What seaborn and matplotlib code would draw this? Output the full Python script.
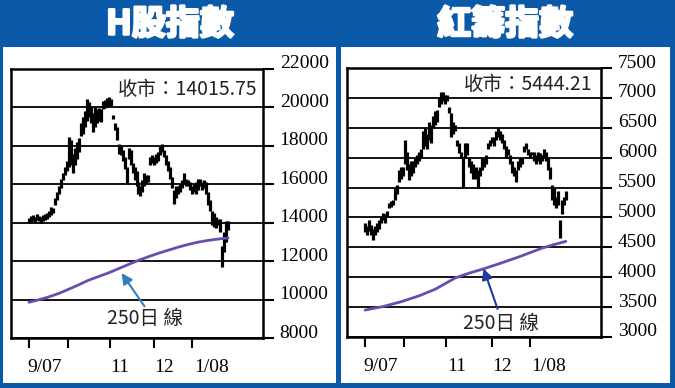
import matplotlib
matplotlib.use("Agg")
import numpy as np
import matplotlib.pyplot as plt
import matplotlib.transforms as mtransforms
import matplotlib.patheffects as pe
from matplotlib.patches import Rectangle
import seaborn as sns

# ---- data ----
titles = ["H股指數", "紅籌指數"]
close_labels = ["收市：14015.75", "收市：5444.21"]
month_labels = ["9/07", "11", "12", "1/08"]
month_edges = [0, 19.5, 40.5, 63, 82]        # trading-day index of month ticks
month_label_pos = [8, 45.5, 68, 91.5]

# H-share index, daily low / high
h_low = [14000, 14050, 14100, 14000, 14150, 14100, 14000, 14100, 14150, 14200, 14300, 14400, 14500,
         14900, 15200, 15500, 15800, 16200, 16500, 16700, 16900, 17000, 16600, 17000, 17300, 17700, 18500,
         18600, 19000, 19300,
         19500, 19200, 18700, 19000, 19200, 19300, 19250, 19900, 19950, 20000, 20100, 20050, 19400, 18800,
         18300, 17600, 17500, 17200, 16800, 16000,
         17300, 17000, 16600, 16200, 15900, 15500, 15400, 15600, 15900, 16000, 16100, 17000, 17100, 17000,
         17100, 17200, 17500, 17700, 17400, 17000,
         16700, 16300, 15800, 15000, 15300, 15500, 15600, 15800, 16000, 15900, 15900, 15700, 15500, 15600,
         15500, 15700, 15900, 15700, 15800, 15500,
         14900, 14600, 13900, 13800, 13700, 13900, 13500, 11700, 12500, 13000, 13600]
h_high = [14250, 14350, 14400, 14300, 14450, 14350, 14300, 14400, 14450, 14500, 14600, 14800, 14750,
          15300, 15600, 15900, 16300, 16600, 16900, 17200, 18450, 18300, 17600, 17900, 18200, 18400, 19200,
          19500, 19800, 20450,
          20300, 20000, 19700, 20000, 19900, 19950, 19900, 20350, 20400, 20500, 20550, 20450, 19600, 19200,
          19000, 18100, 18000, 17800, 17400, 16900,
          17900, 17800, 17100, 16900, 16700, 16100, 15900, 16200, 16600, 16500, 16500, 17400, 17500, 17400,
          17600, 17700, 18000, 18100, 17800, 17500,
          17200, 16900, 16400, 15700, 15900, 15900, 16000, 16200, 16600, 16300, 16200, 16100, 15900, 16000,
          16100, 16300, 16300, 16100, 16200, 16100,
          15600, 15200, 14600, 14500, 14300, 14200, 14200, 12800, 13500, 14100, 14100]
h_ma_days = [0, 5, 10, 15, 20, 25, 30, 35, 40, 45, 50, 55, 60, 65, 70, 75, 80, 85, 90, 95, 100]
h_ma = [9860, 9990, 10140, 10320, 10540, 10770, 11010, 11200, 11390, 11610, 11830, 12040, 12230,
        12410, 12570, 12730, 12870, 12990, 13080, 13150, 13210]

# Red-chip index, daily low / high
r_low = [4750, 4700, 4780, 4700, 4630, 4700, 4750, 4800, 4900, 4950,
         4900, 5000, 5150, 5180, 5200, 5300, 5400, 5600, 5650, 5700,
         5900, 5800, 5620, 5700, 5750, 5850, 5900, 5950, 6000, 6150,
         6200, 6150, 6300, 6250, 6500, 6550, 6600, 6850, 6900, 6950,
         6900, 6950, 6750, 6350, 6400, 6450, 6200, 6080, 6000, 5500,
         6000, 6050, 5850, 5750, 5650, 5650, 5500, 5700, 5800, 5850,
         5900, 6150, 6200, 6250, 6200, 6300, 6350, 6300, 6250, 6150,
         6000, 6050, 5900, 5750, 5700, 5600, 5800, 5850, 5900, 6100,
         6150, 6050, 6000, 6050, 5950, 5900, 5950, 5900, 5950, 6000,
         5950, 5800, 5650, 5300, 5200, 5150, 5200, 4650, 5050, 5200, 5300]
r_high = [4900, 4850, 4950, 4880, 4800, 4850, 4900, 4950, 5000, 5080,
          5050, 5100, 5250, 5280, 5300, 5500, 5550, 5800, 5850, 5850,
          6300, 6100, 5900, 5950, 5950, 6000, 6050, 6100, 6150, 6450,
          6500, 6400, 6600, 6550, 6700, 6780, 6800, 7000, 7100, 7100,
          7050, 7050, 6850, 6750, 6600, 6550, 6300, 6250, 6100, 6000,
          6250, 6250, 6000, 5950, 5900, 5850, 5800, 5850, 6000, 6000,
          6050, 6250, 6300, 6350, 6350, 6450, 6500, 6450, 6400, 6300,
          6200, 6150, 6050, 5950, 5850, 5800, 5950, 6000, 6000, 6200,
          6250, 6150, 6100, 6100, 6100, 6050, 6100, 6080, 6050, 6150,
          6100, 6000, 5850, 5550, 5500, 5350, 5450, 4950, 5300, 5350, 5450]
r_ma_days = [0, 9, 18, 27, 35, 45, 52, 59, 68, 77, 88, 94, 100]
r_ma = [3450, 3510, 3590, 3690, 3800, 3990, 4070, 4140, 4240, 4345, 4485, 4545, 4600]

h_yticks = [8000, 10000, 12000, 14000, 16000, 18000, 20000, 22000]
r_yticks = [3000, 3500, 4000, 4500, 5000, 5500, 6000, 6500, 7000, 7500]

BLUE = "#0b59a9"
PURPLE = "#6a4cb0"
W, H, DPI = 675, 388, 100

sns.set_theme(style="white")
plt.rcParams["font.family"] = ["Noto Sans CJK TC", "DejaVu Sans"]


def fx(px):
    return px / W


def fy(py):
    return 1 - py / H


def draw_panel(ax, lows, highs, ma_days, ma_vals, yticks, close_text, close_xy,
               ma_text_xy, arrow_head, arrow_tail, arrow_color):
    days = np.arange(len(lows))
    ax.vlines(days, lows, highs, color="black", lw=2.3, zorder=3)
    sns.lineplot(x=ma_days, y=ma_vals, ax=ax, color=PURPLE, lw=2, zorder=4)

    ax.set_xlim(-9, 117.5)
    ax.set_ylim(yticks[0], yticks[-1])
    ax.set_facecolor("white")
    for s in ax.spines.values():
        s.set_visible(True)
        s.set_color("black")
        s.set_linewidth(1.8)

    ax.set_yticks(yticks, labels=[str(v) for v in yticks],
                  fontfamily="Liberation Serif", fontsize=14)
    ax.yaxis.tick_right()
    ax.yaxis.grid(True, color="black", lw=1.3)
    ax.xaxis.grid(False)
    ax.tick_params(axis="y", direction="out", length=8, width=1.5, color="black", pad=4,
                   labelcolor="black")
    up = mtransforms.ScaledTranslation(0, 7 / DPI, ax.figure.dpi_scale_trans)
    for lbl in ax.get_yticklabels():
        lbl.set_transform(lbl.get_transform() + up)

    ax.set_xticks(month_edges, labels=[""] * len(month_edges))
    ax.set_xticks(month_label_pos, labels=month_labels, minor=True,
                  fontfamily="Liberation Serif", fontsize=14)
    ax.tick_params(axis="x", which="major", direction="out", length=7, width=1.5,
                   color="black", bottom=True)
    ax.tick_params(axis="x", which="minor", length=0, pad=15, labelcolor="black")
    ax.set_xlabel("")
    ax.set_ylabel("")

    ax.text(close_xy[0], close_xy[1], close_text, transform=ax.transAxes,
            ha="right", va="center", fontsize=14, color="#222222")
    ax.annotate("", xy=arrow_head, xytext=arrow_tail,
                arrowprops=dict(arrowstyle="-|>", color=arrow_color, lw=1.5,
                                mutation_scale=16, shrinkA=0, shrinkB=0), zorder=5)
    ax.text(ma_text_xy[0], ma_text_xy[1], "250日 線", ha="center", va="center",
            fontsize=14, color="#222222")


fig = plt.figure(figsize=(W / DPI, H / DPI), dpi=DPI, facecolor=BLUE)
for x0, x1 in [(3, 336), (341, 670)]:
    fig.patches.append(Rectangle((fx(x0), fy(383)), (x1 - x0) / W, (383 - 47) / H,
                                 transform=fig.transFigure, facecolor="white",
                                 edgecolor="none", zorder=-10))

bold = [pe.withStroke(linewidth=1.8, foreground="white")]
fig.text(fx(170), fy(24), titles[0], ha="center", va="center", color="white",
         fontsize=24.5, fontweight="bold", path_effects=bold)
fig.text(fx(505), fy(24), titles[1], ha="center", va="center", color="white",
         fontsize=24.5, fontweight="bold", path_effects=bold)

ax1 = fig.add_axes([fx(11), fy(338), 252 / W, 269 / H])
draw_panel(ax1, h_low, h_high, h_ma_days, h_ma, h_yticks, close_labels[0], (0.976, 0.922),
           (58, 9030), (46.5, 11380), (58, 9650), "#2f7fc4")

ax2 = fig.add_axes([fx(347), fy(337), 254 / W, 269 / H])
draw_panel(ax2, r_low, r_high, r_ma_days, r_ma, r_yticks, close_labels[1], (0.965, 0.937),
           (67.5, 3220), (59, 4145), (66, 3470), "#1d3c96")

fig.savefig("out.png", dpi=DPI, facecolor=BLUE)
